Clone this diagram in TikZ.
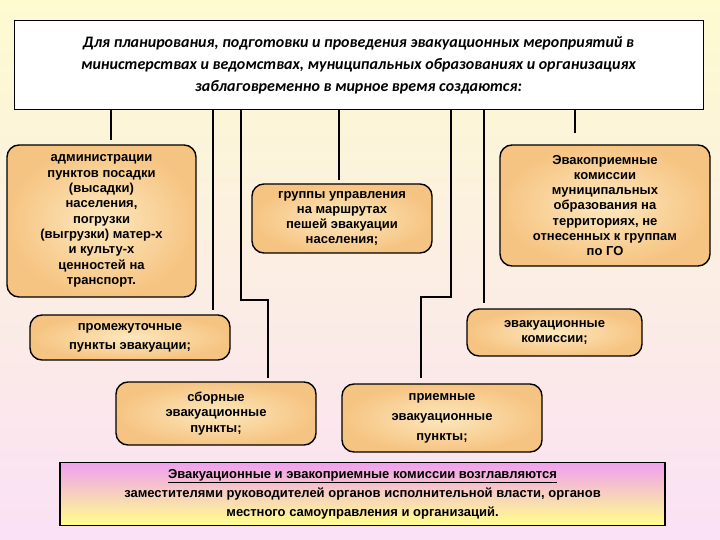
\documentclass[tikz,border=0pt]{standalone}
\usepackage{fontspec}
\setmainfont{Liberation Sans}
\newfontfamily\topfont{Carlito}
\begin{document}
\begin{tikzpicture}[x=1pt,y=-1pt,
  obox/.style={draw=black,line width=1.4pt,rounded corners=12pt,inner color={rgb,255:red,253;green,232;blue,190},outer color={rgb,255:red,246;green,196;blue,130},align=center,font=\fontsize{13}{15.3}\selectfont\bfseries,inner sep=2pt},
  conn/.style={line width=1.4pt,black}]
\shade[top color={rgb,255:red,253;green,251;blue,208},bottom color={rgb,255:red,250;green,225;blue,245}] (0,0) rectangle (720,540);
\useasboundingbox (0,0) rectangle (720,540);
\node[draw=black,line width=1pt,fill=white,minimum width=689pt,minimum height=89pt,align=center,font=\topfont\fontsize{16}{22}\selectfont\bfseries\itshape] (top) at (358.5,65.5) {Для планирования, подготовки и проведения эвакуационных мероприятий в\\министерствах и ведомствах, муниципальных образованиях и организациях\\заблаговременно в мирное время создаются:};
\node[obox,minimum width=189pt,minimum height=152pt] (adm) at (101.5,221) {администрации\\пунктов посадки\\(высадки)\\населения,\\погрузки\\(выгрузки) матер-х\\и культу-х\\ценностей на\\транспорт.};
\node[obox,minimum width=180pt,minimum height=69pt] (grp) at (342,218.5) {группы управления\\на маршрутах\\пешей эвакуации\\населения;};
\node[obox,minimum width=210pt,minimum height=121pt] (evp) at (605,205.5) {Эвакоприемные\\комиссии\\муниципальных\\образования на\\территориях, не\\отнесенных к группам\\по ГО};
\node[obox,minimum width=200pt,minimum height=45pt,font=\fontsize{13}{19}\selectfont\bfseries] (prm) at (130,337.5) {промежуточные\\пункты эвакуации;};
\node[obox,minimum width=175pt,minimum height=47pt,font=\fontsize{13}{15.5}\selectfont\bfseries] (evk) at (554.5,332.5) {эвакуационные\\комиссии;};
\node[obox,minimum width=200pt,minimum height=63pt] (sbr) at (216,413.5) {сборные\\эвакуационные\\пункты;};
\node[obox,minimum width=200pt,minimum height=68pt,font=\fontsize{13}{20}\selectfont\bfseries] (pri) at (442,418) {приемные\\эвакуационные\\пункты;};
\node[draw=black,line width=1.6pt,top color={rgb,255:red,240;green,160;blue,240},bottom color={rgb,255:red,255;green,255;blue,140},minimum width=605pt,minimum height=63pt,align=center,font=\fontsize{13}{19}\selectfont\bfseries] (bot) at (362.5,494) {\underline{Эвакуационные и эвакоприемные комиссии возглавляются}\\заместителями руководителей органов исполнительной власти, органов\\местного самоуправления и организаций.};
\coordinate (e1) at (111,140);
\coordinate (e2) at (213,310);
\coordinate (e3) at (268,378);
\coordinate (e4) at (339,180);
\coordinate (e5) at (421,378);
\coordinate (e6) at (484,303);
\coordinate (e7) at (575,133);
\draw[conn] (top.south -| e1) -- (e1);
\draw[conn] (top.south -| e2) -- (e2);
\draw[conn] (top.south -| 241,0) -- (241,300) -- (268,300) -- (e3);
\draw[conn] (top.south -| e4) -- (e4);
\draw[conn] (top.south -| 451,0) -- (451,297) -- (421,297) -- (e5);
\draw[conn] (top.south -| e6) -- (e6);
\draw[conn] (top.south -| e7) -- (e7);
\end{tikzpicture}
\end{document}
